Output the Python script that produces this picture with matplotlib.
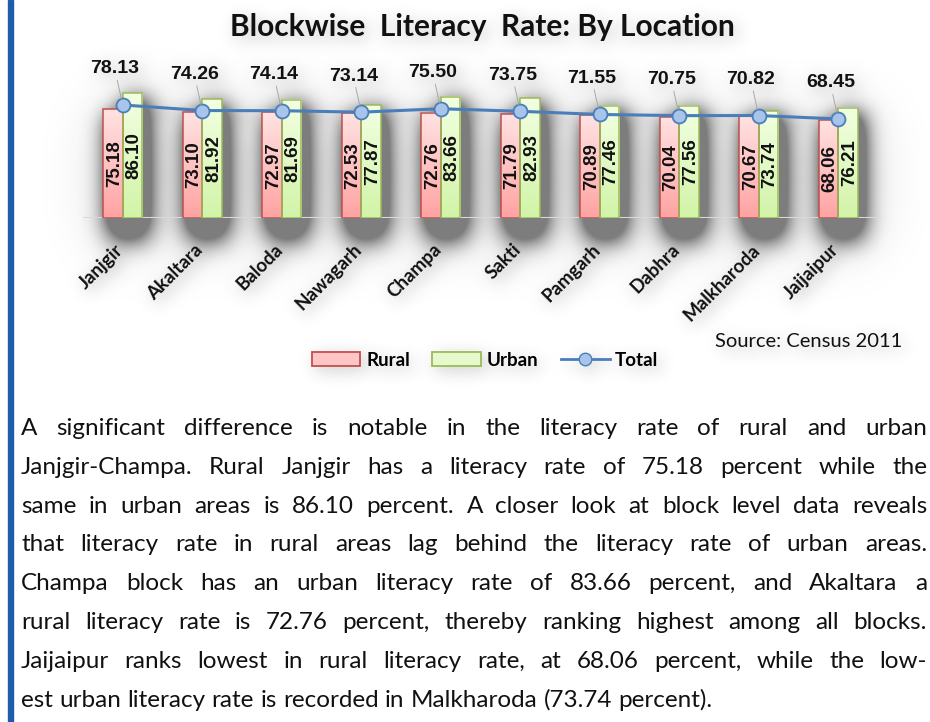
import numpy as np
import matplotlib
matplotlib.use("Agg")
import matplotlib.pyplot as plt
from matplotlib.colors import LinearSegmentedColormap
from matplotlib.lines import Line2D
from matplotlib.patches import Patch, Rectangle

blocks = ["Janjgir", "Akaltara", "Baloda", "Nawagarh", "Champa",
          "Sakti", "Pamgarh", "Dabhra", "Malkharoda", "Jaijaipur"]
rural = [75.18, 73.10, 72.97, 72.53, 72.76, 71.79, 70.89, 70.04, 70.67, 68.06]
urban = [86.10, 81.92, 81.69, 77.87, 83.66, 82.93, 77.46, 77.56, 73.74, 76.21]
total = [78.13, 74.26, 74.14, 73.14, 75.50, 73.75, 71.55, 70.75, 70.82, 68.45]

title = "Blockwise  Literacy  Rate: By Location"
source = "Source: Census 2011"
paragraph = [
    "A significant difference is notable in the literacy rate of rural and urban",
    "Janjgir-Champa. Rural Janjgir has a literacy rate of 75.18 percent while the",
    "same in urban areas is 86.10 percent. A closer look at block level data reveals",
    "that literacy rate in rural areas lag behind the literacy rate of urban areas.",
    "Champa block has an urban literacy rate of 83.66 percent, and Akaltara a",
    "rural literacy rate is 72.76 percent, thereby ranking highest among all blocks.",
    "Jaijaipur ranks lowest in rural literacy rate, at 68.06 percent, while the low-",
    "est urban literacy rate is recorded in Malkharoda (73.74 percent).",
]

W, H = 930, 722
RED, GREEN, BLUE = "#C0504D", "#9BBB59", "#4A7EBB"
NUM = dict(family="Liberation Sans", weight="bold")
LBL = dict(family=["Lato", "DejaVu Sans"], weight="bold")


def blur(a, sigma):
    r = int(3 * sigma)
    k = np.exp(-0.5 * (np.arange(-r, r + 1) / sigma) ** 2)
    k /= k.sum()
    a = np.apply_along_axis(np.convolve, 1, a, k, mode="same")
    return np.apply_along_axis(np.convolve, 0, a, k, mode="same")


def gradient_fill(ax, patch, top, bottom):
    cmap = LinearSegmentedColormap.from_list("g", [bottom, top])
    g = np.linspace(0, 1, 64).reshape(-1, 1)
    x0, w, h = patch.get_x(), patch.get_width(), patch.get_height()
    ax.imshow(g, extent=(x0, x0 + w, 0, h), origin="lower", cmap=cmap,
              aspect="auto", interpolation="bilinear", zorder=2)


fig = plt.figure(figsize=(W / 100, H / 100), dpi=100)
fig.patch.set_facecolor("white")

# chart area: baseline at y=218px, ~1.447 px per percent
ax = fig.add_axes([83 / W, 1 - 218 / H, 795 / W, 168 / H])
ax.set_facecolor("none")
x = np.arange(len(blocks))
bw = 0.245
rb = ax.bar(x - bw / 2, rural, bw, facecolor="none", edgecolor=RED, lw=1.1, zorder=3)
ub = ax.bar(x + bw / 2, urban, bw, facecolor="none", edgecolor=GREEN, lw=1.1, zorder=3)
for p in rb:
    gradient_fill(ax, p, "#FFE2E2", "#FFA3A3")
for p in ub:
    gradient_fill(ax, p, "#F2FFE2", "#D2F4A8")

for p in list(rb) + list(ub):
    h = p.get_height()
    ax.text(p.get_x() + p.get_width() / 2 + 0.02, h / 2, f"{h:.2f}", rotation=90,
            ha="center", va="center", fontsize=13.5, color="#111111", zorder=6, **NUM)

ax.plot(x, total, color=BLUE, lw=2.2, marker="o", ms=10, mfc="#A8C4EA",
        mec=BLUE, mew=1.3, zorder=5)
for i, v in enumerate(total):
    ax.annotate(f"{v:.2f}", xy=(i, v), xytext=(-8, 36), textcoords="offset pixels",
                ha="center", va="center", fontsize=14, color="#111111", zorder=7,
                arrowprops=dict(arrowstyle="-", color="#A0A0A0", lw=0.6,
                                shrinkA=0, shrinkB=4), **NUM)

for i, name in enumerate(blocks):
    ax.annotate(name, xy=(i, 0), xytext=(-2, -29), textcoords="offset pixels",
                rotation=45, rotation_mode="anchor", ha="right", va="center",
                fontsize=13.5, color="#111111", **LBL)

ax.axhline(0, color="#D9D9D9", lw=1.5, zorder=1)
ax.set_xlim(-0.5, len(blocks) - 0.5)
ax.set_ylim(0, 168 / 1.447)
ax.set_xticks([])
ax.set_yticks([])
for s in ax.spines.values():
    s.set_visible(False)

fig.text(482 / W, 1 - 36 / H, title, ha="center", va="baseline",
         fontsize=21.5, color="#111111", **LBL)

handles = [
    Patch(facecolor="#FFC4C4", edgecolor=RED, lw=1.3),
    Patch(facecolor="#E6F9CC", edgecolor=GREEN, lw=1.3),
    Line2D([], [], color=BLUE, lw=2, marker="o", ms=9, mfc="#A8C4EA", mec=BLUE),
]
fig.legend(handles, ["Rural", "Urban", "Total"], loc="center",
           bbox_to_anchor=(485 / W, 1 - 360 / H), ncol=3, frameon=False,
           prop=dict(family="Lato", weight="bold", size=13.5),
           handlelength=2.6, handleheight=0.75, handletextpad=0.3, columnspacing=1.2)

fig.text(902 / W, 1 - 347 / H, source, ha="right", va="baseline",
         fontsize=14.5, color="#111111", family=["Lato", "DejaVu Sans"])

fig.patches.append(Rectangle((8 / W, 0), 5 / W, 1, transform=fig.transFigure,
                             color="#1F5DA8", zorder=5))

# soft drop shadow: strong behind the bars, faint around the texts
fig.canvas.draw()
renderer = fig.canvas.get_renderer()
buf = np.asarray(fig.canvas.buffer_rgba()).astype(float)
ink = (buf[..., :3].min(axis=2) < 245).astype(float)
ink[395:, :] = 0
ink[:, :20] = 0
bars = np.zeros((H, W))
for p in list(rb) + list(ub):
    bb = p.get_window_extent(renderer)
    r0, r1 = int(H - bb.y1), int(H - bb.y0) + 16
    bars[r0:r1, int(bb.x0):int(bb.x1)] = 1


def shifted(a, d):
    out = np.zeros_like(a)
    out[d:, d:] = a[:-d, :-d]
    return out


alpha = (1.1 * blur(shifted(bars, 6), 12) + 0.25 * blur(shifted(bars, 6), 32)
         + 0.22 * blur(shifted(ink, 4), 8))
alpha = np.clip(alpha, 0, 0.6)
rgba = np.zeros((H, W, 4))
rgba[..., :3] = 0.15
rgba[..., 3] = alpha
fig.figimage(rgba, xo=0, yo=0, origin="upper", zorder=-1)

# justified paragraph
left, right = 21, 927
fs = 17.5
probe = fig.text(0, 0, "", fontsize=fs, family="Lato")


def width(s, size):
    probe.set_text(s)
    probe.set_fontsize(size)
    return probe.get_window_extent(renderer).width


widest = max(width(line, fs) for line in paragraph)
fs = fs * min(1.0, (right - left - 2) / widest)
space = width("x x", fs) - width("xx", fs)
for n, line in enumerate(paragraph):
    words = line.split(" ")
    ws = [width(w, fs) for w in words]
    gap = space
    if n < len(paragraph) - 1:
        gap = (right - left - sum(ws)) / (len(words) - 1)
    xpos = left
    ybase = 435 + n * 38.8
    for w, wd in zip(words, ws):
        fig.text(xpos / W, 1 - ybase / H, w, fontsize=fs, family="Lato",
                 color="#111111", ha="left", va="baseline")
        xpos += wd + gap
probe.set_text("")

fig.savefig("out.png", dpi=100, facecolor="white")
